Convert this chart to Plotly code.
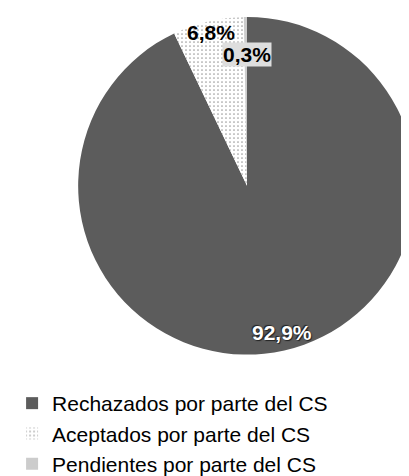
import math
import plotly.graph_objects as go

# ---- data ----
categories = ["Rechazados por parte del CS", "Aceptados por parte del CS", "Pendientes por parte del CS"]
values = [92.9, 6.8, 0.3]
value_labels = ["92,9%", "6,8%", "0,3%"]

# ---- style ----
W, H = 409, 476
CX, CY, R = 240, 180, 171          # pie centre / radius in pixels
slice_colors = ["#5c5c5c", "#f6f6f6", "#cccccc"]
label_radius = [0.89, 0.93, 0.78]   # label distance (fraction of radius)
label_colors = ["white", "black", "black"]
label_bg = [None, None, "#dedede"]

fig = go.Figure()
fig.add_trace(go.Pie(
    labels=categories,
    values=values,
    sort=False,
    direction="clockwise",
    rotation=0,
    textinfo="none",
    hoverinfo="label+percent",
    marker=dict(
        colors=slice_colors,
        line=dict(width=0),
        pattern=dict(shape=["", ".", ""], fgcolor=["#5c5c5c", "#a0a0a0", "#cccccc"],
                     size=4, solidity=0.15),
    ),
    domain=dict(x=[(CX - R) / W, min(1.0, (CX + R) / W)],
                y=[(H - CY - R) / H, (H - CY + R) / H]),
))

# labels at each slice's mid-angle (computed from the data)
total = sum(values)
cum = 0.0
for i, v in enumerate(values):
    mid = (cum + v / 2) / total * 2 * math.pi
    cum += v
    px = CX + label_radius[i] * R * math.sin(mid)
    py = CY - label_radius[i] * R * math.cos(mid)
    ann = dict(
        x=px / W, y=(H - py) / H, xref="paper", yref="paper",
        text="<b>%s</b>" % value_labels[i], showarrow=False,
        font=dict(family="Liberation Sans, Arial", size=21, color=label_colors[i]),
        xanchor="center", yanchor="middle",
    )
    if i == 0:
        ann["font"]["shadow"] = "1px 1px 1px #222, -1px -1px 1px #222"
    if label_bg[i]:
        ann["bgcolor"] = label_bg[i]
        ann["borderpad"] = 0
    fig.add_annotation(**ann)

fig.update_layout(
    width=W, height=H,
    margin=dict(l=0, r=0, t=0, b=0),
    paper_bgcolor="white",
    plot_bgcolor="white",
    showlegend=True,
    legend=dict(
        x=0.01, y=(H - 380) / H, xanchor="left", yanchor="top",
        font=dict(family="Liberation Sans, Arial", size=21, color="black"),
        bgcolor="rgba(0,0,0,0)",
        traceorder="normal",
    ),
)

fig.write_html("out.html")
